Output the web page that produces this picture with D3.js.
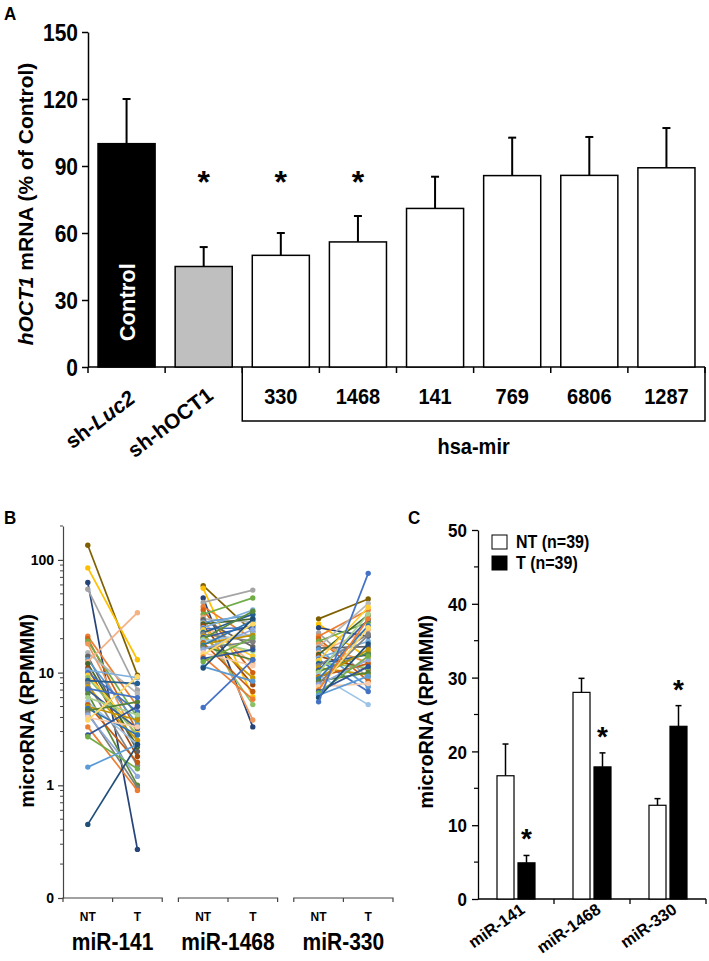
<!DOCTYPE html>
<html><head><meta charset="utf-8">
<script src="https://cdn.jsdelivr.net/npm/d3@7"></script>
<style>
body{margin:0;background:#fff}
svg{display:block}
text{font-family:"Liberation Sans",Arial,sans-serif;font-weight:bold;fill:#000}
.narrow{font-family:"Liberation Sans Narrow","Arial Narrow","Liberation Sans",sans-serif}
</style>
</head><body>
<svg id="c" width="709" height="961"></svg>
<script>
// ---------- Panel A data ----------
const catsA = ["sh-Luc2","sh-hOCT1","330","1468","141","769","6806","1287"];
const valsA = [100, 45, 50, 56, 71, 85.7, 85.8, 89.2];
const sdA   = [20, 8.7, 10, 11.6, 14.2, 17, 17.2, 17.8];
const sigA  = [false, true, true, true, false, false, false, false];
const ticksA = [0, 30, 60, 90, 120, 150];
const fillsA = ["#000000", "#bfbfbf", "#ffffff", "#ffffff", "#ffffff", "#ffffff", "#ffffff", "#ffffff"];

// ---------- Panel B data (39 paired samples per microRNA) ----------
const groupsB = ["miR-141", "miR-1468", "miR-330"];
const conds = ["NT", "T"];
const nt141 = [135,85,63,55,21,20,19,18,15,14,13,12.5,12,11,10.5,10,9.5,9,8.5,8,7.5,7,6.5,6,5.5,5.2,5,4.8,4.6,4.4,4.2,4,3.8,3.3,2.8,2.7,1.45,0.45,7.2];
const t141  = [9.5,13,0.27,7,5,3,4,2.5,6.5,2,3.5,34,2.2,1.8,9,4.5,3,2.8,8,1.5,2.5,3.2,1.0,4.2,2.3,1.6,3.8,2.8,5.5,0.95,1.2,3.3,9.2,0.9,5,1.4,2.3,2.3,6];
const nt1468 = [59,56,46,42,38.5,36,33,31,30,29.5,28,27.5,27,26,25,24.5,24,23,22.6,22,21,20.5,20,19.6,19,18.4,18,17.5,17,16.5,16,15,14.4,13.8,13.3,12.5,11.3,11,4.9];
const t1468  = [23,6.1,3.3,54,20,10,46,3.8,28,17,32.5,12,30,7.8,36,25,14,5.2,33,19,9,26,35,15.5,22,6.8,21.5,29,13,18.8,24,11.5,27,5.8,16,20.5,8.4,30,13];
const nt330 = [30,27,25,22.5,21,20,19,18,17,16.5,16,15,14.5,14,13.5,13,12.8,12.2,12,11.5,11,10.5,10.2,10,9.5,9.2,9,8.8,8.4,8,7.8,7.5,7.1,7,6.8,6.6,6.3,6,5.5];
const t330  = [45,13.5,21,9,36,8.4,28,12.2,41,17,7.5,24,32.5,10.7,19,6.8,38,11,14.4,22,9.6,29.5,15,33,5.2,12,16,26,10,21.5,13,8,25,30,11.3,14,9.3,18,76];
const seriesColors = ["#7f6000","#ffc000","#264478","#a5a5a5","#ed7d31","#d26012","#70ad47","#f1975a","#b7b7b7","#636363",
  "#5b9bd5","#f4b183","#43682b","#9e480e","#7cafdd","#4472c4","#ffcd33","#8cc168","#255e91","#848484",
  "#cc9a00","#335aa1","#5a8a39","#a9d18e","#9dc3e6","#c55a11","#bf9000","#2e75b6","#548235","#7f7f7f",
  "#8faadc","#f8cbad","#ffd966","#ed7d31","#2f5597","#70ad47","#5b9bd5","#1f4e79","#4472c4"];
const ticksB = [0.1, 1, 10, 100];
const tickLabelsB = ["0", "1", "10", "100"];

// ---------- Panel C data ----------
const groupsC = ["miR-141", "miR-1468", "miR-330"];
const ntMeanC = [16.7, 28.0, 12.7];
const ntSdC   = [4.3, 1.9, 0.9];
const tMeanC  = [4.9, 17.9, 23.4];
const tSdC    = [1.0, 1.9, 2.8];
const sigC    = [true, true, true];
const ticksC  = [0, 10, 20, 30, 40, 50];
const legendC = ["NT (n=39)", "T (n=39)"];

const svg = d3.select("#c");
const SY = 1.12; // vertical stretch of the original artwork's lettering

function hText(g, x, y, str, size, anchor, cls) {
  return g.append("text").attr("class", cls || null)
    .attr("transform", `translate(${x},${y}) scale(1,${SY})`)
    .attr("text-anchor", anchor || "start").style("font-size", size + "px").text(str);
}

// ================= Panel A =================
const xA = d3.scaleBand().domain(catsA).range([88, 705]).paddingInner(0.26).paddingOuter(0.13);
const yA = d3.scaleLinear().domain([0, 150]).range([367, 32]);
const gA = svg.append("g");
const gap = xA.step() * xA.paddingInner() / 2;

hText(gA, 4, 20, "A", 17);

const yAxA = gA.append("g").attr("transform", "translate(88,0)")
  .call(d3.axisLeft(yA).tickValues(ticksA).tickSize(6).tickSizeOuter(0).tickPadding(4));
yAxA.selectAll("path,line").attr("stroke", "#000").attr("stroke-width", 1.5);
yAxA.selectAll("text").attr("font-family", null).attr("dy", null).attr("y", 0)
  .attr("transform", `translate(-10,0) scale(1,${SY}) translate(0,7.5)`).attr("x", 0)
  .style("font-size", "21px").style("font-weight", "bold");

gA.append("line").attr("x1", 88).attr("x2", 705).attr("y1", yA(0)).attr("y2", yA(0))
  .attr("stroke", "#000").attr("stroke-width", 1.5);
const bounds = catsA.map(c => xA(c) - gap).concat([xA(catsA[catsA.length - 1]) + xA.bandwidth() + gap]);
gA.selectAll(".xt").data(bounds).join("line")
  .attr("x1", d => d).attr("x2", d => d).attr("y1", yA(0)).attr("y2", yA(0) + 6)
  .attr("stroke", "#000").attr("stroke-width", 1.5);

gA.selectAll(".barA").data(catsA).join("rect")
  .attr("x", d => xA(d)).attr("width", xA.bandwidth())
  .attr("y", (d, i) => yA(valsA[i])).attr("height", (d, i) => yA(0) - yA(valsA[i]))
  .attr("fill", (d, i) => fillsA[i]).attr("stroke", "#000").attr("stroke-width", 1.5);
catsA.forEach((c, i) => {
  const cx = xA(c) + xA.bandwidth() / 2;
  gA.append("line").attr("x1", cx).attr("x2", cx).attr("y1", yA(valsA[i])).attr("y2", yA(valsA[i] + sdA[i]))
    .attr("stroke", "#000").attr("stroke-width", 2);
  gA.append("line").attr("x1", cx - 4).attr("x2", cx + 4).attr("y1", yA(valsA[i] + sdA[i])).attr("y2", yA(valsA[i] + sdA[i]))
    .attr("stroke", "#000").attr("stroke-width", 2);
  if (sigA[i]) gA.append("text").attr("x", cx).attr("y", yA(78)).attr("text-anchor", "middle")
    .style("font-size", "32px").text("*");
});
{
  const cx = xA(catsA[0]) + xA.bandwidth() / 2;
  gA.append("text").attr("transform", `translate(${cx + 8},${yA(29)}) rotate(-90)`)
    .attr("text-anchor", "middle").style("fill", "#fff").style("font-size", "22px").text("Control");
}
const mirCats = catsA.slice(2);
mirCats.forEach(d => hText(gA, xA(d) + xA.bandwidth() / 2, 404, d, 20, "middle"));
const bx0 = xA(mirCats[0]) - gap, bx1 = bounds[bounds.length - 1];
gA.append("path").attr("d", `M${bx0},${yA(0)}V421H${bx1}V${yA(0)}`).attr("fill", "none")
  .attr("stroke", "#000").attr("stroke-width", 1.5);
hText(gA, (bx0 + bx1) / 2, 454, "hsa-mir", 20, "middle");
const l1 = gA.append("text").attr("transform", `translate(${xA(catsA[0]) + xA.bandwidth() / 2 + 10},401) rotate(-37)`)
  .attr("text-anchor", "end").style("font-size", "21px");
l1.append("tspan").text("sh-");
l1.append("tspan").style("font-style", "italic").text("Luc2");
gA.append("text").attr("transform", `translate(${xA(catsA[1]) + xA.bandwidth() / 2 + 11},398) rotate(-37)`)
  .attr("text-anchor", "end").style("font-size", "21px").text("sh-hOCT1");
const ylA = gA.append("text").attr("transform", "translate(33,204) rotate(-90)").attr("text-anchor", "middle")
  .style("font-size", "21px");
ylA.append("tspan").style("font-style", "italic").text("hOCT1");
ylA.append("tspan").text(" mRNA (% of Control)");

// ================= Panel B =================
const gB = svg.append("g");
hText(gB, 4, 524, "B", 17);
const yB = d3.scaleLog().domain([0.1, 200]).range([898, 526]);
const xB = d3.scaleBand().domain(groupsB).range([63, 393]).paddingInner(0.14).paddingOuter(0);
const xBi = d3.scaleBand().domain(conds).range([0, xB.bandwidth()]);

const yAxB = gB.append("g").attr("transform", "translate(63,0)")
  .call(d3.axisLeft(yB).tickValues(ticksB).tickFormat((d, i) => tickLabelsB[i]).tickSize(5).tickSizeOuter(0).tickPadding(4));
yAxB.selectAll("path,line").attr("stroke", "#444").attr("stroke-width", 1.2);
yAxB.selectAll("text").attr("font-family", null).attr("class", "narrow").style("font-size", "14px").style("font-weight", "bold");
const minorB = [];
ticksB.forEach(d => { for (let k = 2; k <= 9; k++) if (d * k <= 200) minorB.push(d * k); });
gB.selectAll(".mt").data(minorB).join("line")
  .attr("x1", 60).attr("x2", 63).attr("y1", d => yB(d)).attr("y2", d => yB(d))
  .attr("stroke", "#444").attr("stroke-width", 1);

const seriesB = [[nt141, t141], [nt1468, t1468], [nt330, t330]];
groupsB.forEach((g, gi) => {
  const x0 = xB(g), x1 = x0 + xB.bandwidth();
  const xNT = x0 + xBi("NT") + xBi.bandwidth() / 2, xT = x0 + xBi("T") + xBi.bandwidth() / 2;
  const [a, b] = seriesB[gi];
  const gg = gB.append("g");
  a.forEach((v, i) => {
    const col = seriesColors[i];
    gg.append("line").attr("x1", xNT).attr("x2", xT).attr("y1", yB(v)).attr("y2", yB(b[i]))
      .attr("stroke", col).attr("stroke-width", 1.7);
    gg.append("circle").attr("cx", xNT).attr("cy", yB(v)).attr("r", 2.7).attr("fill", col);
    gg.append("circle").attr("cx", xT).attr("cy", yB(b[i])).attr("r", 2.7).attr("fill", col);
  });
  gB.append("path").attr("d", `M${x0},${yB(0.1) + 4}V${yB(0.1)}H${x1}V${yB(0.1) + 4}M${(x0 + x1) / 2},${yB(0.1)}V${yB(0.1) + 4}`)
    .attr("fill", "none").attr("stroke", "#444").attr("stroke-width", 1.2);
  conds.forEach(c => hText(gB, x0 + xBi(c) + xBi.bandwidth() / 2, 921, c, 12, "middle", "narrow"));
  hText(gB, (x0 + x1) / 2, 950, g, 21, "middle");
});
gB.append("text").attr("transform", "translate(34,711) rotate(-90)").attr("text-anchor", "middle")
  .style("font-size", "20px").text("microRNA (RPMMM)");

// ================= Panel C =================
const gC = svg.append("g");
hText(gC, 408, 524, "C", 17);
const xC = d3.scaleBand().domain(groupsC).range([478, 706]);
const xCi = d3.scaleBand().domain(conds).range([0, xC.bandwidth()]).paddingInner(0.19).paddingOuter(0.905);
const yC = d3.scaleLinear().domain([0, 50]).range([899, 530]);

const yAxC = gC.append("g").attr("transform", "translate(478,0)")
  .call(d3.axisLeft(yC).tickValues(ticksC).tickSize(6).tickSizeOuter(0).tickPadding(4));
yAxC.selectAll("path,line").attr("stroke", "#000").attr("stroke-width", 1.3);
yAxC.selectAll("text").attr("font-family", null).attr("dy", null).attr("y", 0).attr("x", 0)
  .attr("transform", `translate(-11,0) scale(1,${SY}) translate(0,6)`)
  .style("font-size", "17px").style("font-weight", "bold");
gC.selectAll(".mc").data([5, 15, 25, 35, 45]).join("line")
  .attr("x1", 474).attr("x2", 478).attr("y1", d => yC(d)).attr("y2", d => yC(d))
  .attr("stroke", "#000").attr("stroke-width", 1.2);
gC.append("line").attr("x1", 478).attr("x2", 706).attr("y1", yC(0)).attr("y2", yC(0))
  .attr("stroke", "#000").attr("stroke-width", 1.3);
gC.selectAll(".xtc").data(groupsC.map(g => xC(g) + xC.bandwidth())).join("line")
  .attr("x1", d => d).attr("x2", d => d).attr("y1", yC(0)).attr("y2", yC(0) + 5)
  .attr("stroke", "#000").attr("stroke-width", 1.3);

groupsC.forEach((g, gi) => {
  const vals = [ntMeanC[gi], tMeanC[gi]], sds = [ntSdC[gi], tSdC[gi]];
  conds.forEach((c, ci) => {
    const x = xC(g) + xCi(c), w = xCi.bandwidth(), cx = x + w / 2;
    gC.append("line").attr("x1", cx).attr("x2", cx).attr("y1", yC(vals[ci])).attr("y2", yC(vals[ci] + sds[ci]))
      .attr("stroke", "#000").attr("stroke-width", 1.5);
    gC.append("line").attr("x1", cx - 3).attr("x2", cx + 3).attr("y1", yC(vals[ci] + sds[ci])).attr("y2", yC(vals[ci] + sds[ci]))
      .attr("stroke", "#000").attr("stroke-width", 1.5);
    gC.append("rect").attr("x", x).attr("width", w).attr("y", yC(vals[ci])).attr("height", yC(0) - yC(vals[ci]))
      .attr("fill", ci === 0 ? "#fff" : "#000").attr("stroke", "#000").attr("stroke-width", 1.2);
    if (ci === 1 && sigC[gi]) gC.append("text").attr("x", cx).attr("y", yC(vals[ci] + sds[ci]) - 7)
      .attr("text-anchor", "middle").style("font-size", "28px").text("*");
  });
  gC.append("text").attr("transform", `translate(${xC(g) + xC.bandwidth() / 2 + 10},912) rotate(-35)`)
    .attr("text-anchor", "end").style("font-size", "16.5px").text(g);
});
legendC.forEach((t, i) => {
  gC.append("rect").attr("x", 492).attr("y", 535 + i * 21).attr("width", 15).attr("height", 14)
    .attr("fill", i === 0 ? "#fff" : "#000").attr("stroke", "#000").attr("stroke-width", 1);
  hText(gC, 516, 548 + i * 21, t, 16);
});
gC.append("text").attr("transform", "translate(433,712) rotate(-90)").attr("text-anchor", "middle")
  .style("font-size", "20px").text("microRNA (RPMMM)");
</script>
</body></html>
